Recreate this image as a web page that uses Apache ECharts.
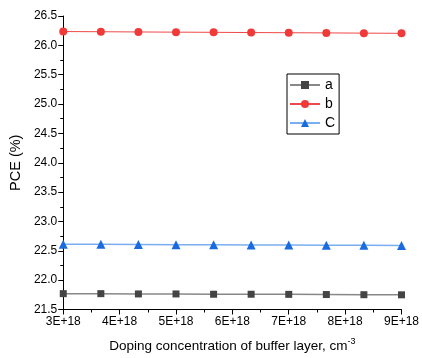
<!DOCTYPE html>
<html><head><meta charset="utf-8">
<script src="https://cdn.jsdelivr.net/npm/echarts@6/dist/echarts.min.js"></script>
<style>html,body{margin:0;padding:0;background:#fff}#c{width:422px;height:358px}</style>
</head><body><div id="c"></div>
<script>
const xValues = [3.0e18, 3.667e18, 4.333e18, 5.0e18, 5.667e18, 6.333e18, 7.0e18, 7.667e18, 8.333e18, 9.0e18];
const seriesA = [21.77, 21.77, 21.765, 21.765, 21.76, 21.76, 21.758, 21.755, 21.752, 21.75];
const seriesB = [26.235, 26.232, 26.228, 26.225, 26.222, 26.218, 26.215, 26.212, 26.208, 26.205];
const seriesC = [22.612, 22.61, 22.607, 22.605, 22.603, 22.6, 22.598, 22.596, 22.594, 22.592];
const names = ['a', 'b', 'C'];
const font = 'Liberation Sans, Arial, sans-serif';
const pair = (arr) => xValues.map((x, i) => [x, arr[i]]);
const chart = echarts.init(document.getElementById('c'), null, {renderer: 'canvas'});
chart.setOption({
  animation: false,
  backgroundColor: '#fff',
  grid: {left: 60, right: 18, top: 16, bottom: 48, containLabel: false},
  legend: {
    data: names, orient: 'vertical', left: 287, top: 74,
    itemWidth: 30, itemHeight: 10, itemGap: 3,
    borderColor: '#000', borderWidth: 1, padding: [3, 4, 3, 2],
    textStyle: {fontFamily: font, fontSize: 14, color: '#000', lineHeight: 16}
  },
  xAxis: {
    type: 'value', min: 3e18, max: 9e18, interval: 1e18,
    name: 'Doping concentration of buffer layer, cm{sup|-3}',
    nameLocation: 'middle', nameGap: 28,
    nameTextStyle: {fontFamily: font, fontSize: 13.5, color: '#000', rich: {sup: {fontSize: 9, verticalAlign: 'top', padding: [0,0,8,0], fontFamily: font, color: '#000'}}},
    axisLine: {lineStyle: {color: '#000', width: 1}},
    axisTick: {show: true, inside: false, length: 5, lineStyle: {color: '#000'}},
    minorTick: {show: true, splitNumber: 2, length: 3, lineStyle: {color: '#000'}},
    splitLine: {show: false},
    axisLabel: {fontFamily: font, fontSize: 12, color: '#000', margin: 6,
      formatter: v => Math.round(v / 1e18) + 'E+18'}
  },
  yAxis: {
    type: 'value', min: 21.5, max: 26.5, interval: 0.5,
    name: 'PCE (%)', nameLocation: 'middle', nameGap: 35,
    nameTextStyle: {fontFamily: font, fontSize: 14.5, color: '#000'},
    axisLine: {show: true, lineStyle: {color: '#000', width: 1}},
    axisTick: {show: true, inside: false, length: 5, lineStyle: {color: '#000'}},
    minorTick: {show: true, splitNumber: 2, length: 3, lineStyle: {color: '#000'}},
    splitLine: {show: false},
    axisLabel: {fontFamily: font, fontSize: 12, color: '#000', margin: 6,
      formatter: v => v.toFixed(1)}
  },
  series: [
    {name: names[0], type: 'line', data: pair(seriesA), symbol: 'rect', symbolSize: 7,
      itemStyle: {color: '#444'}, lineStyle: {color: '#888', width: 1.5}},
    {name: names[1], type: 'line', data: pair(seriesB), symbol: 'circle', symbolSize: 8,
      itemStyle: {color: '#f03a3a'}, lineStyle: {color: '#f04848', width: 1}},
    {name: names[2], type: 'line', data: pair(seriesC), symbol: 'triangle', symbolSize: 9,
      itemStyle: {color: '#1a6be0'}, lineStyle: {color: '#7aaef0', width: 1.5}}
  ]
});
</script></body></html>
